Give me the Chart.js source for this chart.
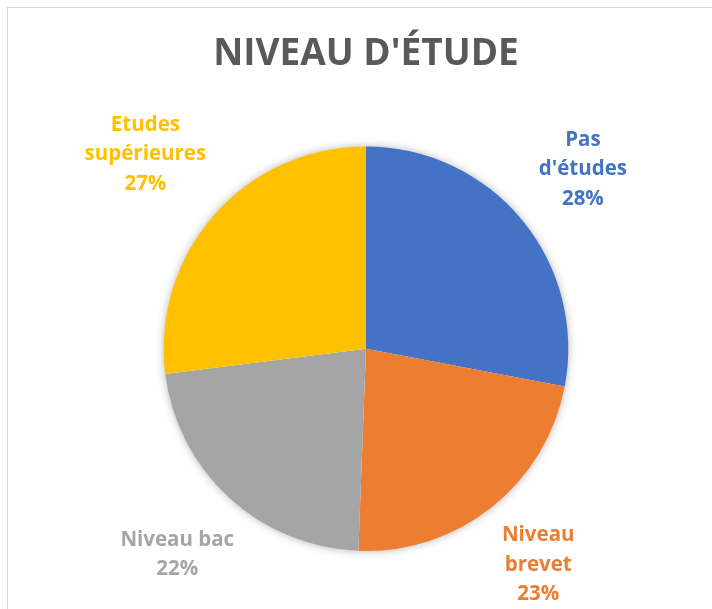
<!DOCTYPE html>
<html>
<head>
<meta charset="utf-8">
<script src="https://cdn.jsdelivr.net/npm/chart.js@4/dist/chart.umd.min.js"></script>
<style>
  html, body { margin:0; padding:0; background:#fff; }
  #wrap { position:relative; width:712px; height:609px; overflow:hidden; }
  #frame { position:absolute; left:7px; top:7px; width:800px; height:700px;
    border-left:1px solid #d9d9d9; border-top:1px solid #d9d9d9; }
  canvas { position:absolute; left:0; top:0; }
</style>
</head>
<body>
<div id="wrap">
  <div id="frame"></div>
  <canvas id="chartPie" width="712" height="609"></canvas>
</div>
<script>
// catégories (découpées en lignes comme dans l'original) et parts en %
const CATEGORIES = [['Pas', "d'études"], ['Niveau', 'brevet'], ['Niveau bac'], ['Etudes', 'supérieures']];
const VALUES = [28.0, 22.6, 22.4, 27.0];
const COLORS = ['#4472C4', '#ED7D31', '#A5A5A5', '#FFC000'];
const TITLE = "NIVEAU D'ÉTUDE";

const FONT = '"Open Sans", "DejaVu Sans", sans-serif';

// ombre douce sous le camembert
const shadowPlugin = {
  id: 'pieShadow',
  beforeDatasetsDraw(chart) {
    const arc = chart.getDatasetMeta(0).data[0];
    if (!arc) return;
    const ctx = chart.ctx;
    ctx.save();
    ctx.shadowColor = 'rgba(0,0,0,0.35)';
    ctx.shadowBlur = 10;
    ctx.fillStyle = '#ffffff';
    ctx.beginPath();
    ctx.arc(arc.x, arc.y, arc.outerRadius - 1, 0, Math.PI * 2);
    ctx.fill();
    ctx.restore();
  }
};

// étiquettes extérieures : nom + pourcentage, couleur de la part
const outLabels = {
  id: 'outLabels',
  afterDatasetsDraw(chart) {
    const ctx = chart.ctx;
    const total = VALUES.reduce((s, v) => s + v, 0);
    const lineH = 29.5, gap = 17;
    ctx.save();
    ctx.font = '700 20.5px ' + FONT;
    ctx.textAlign = 'center';
    ctx.textBaseline = 'middle';
    chart.getDatasetMeta(0).data.forEach((arc, i) => {
      const lines = CATEGORIES[i].concat([Math.round(VALUES[i] / total * 100) + '%']);
      const w = Math.max(...lines.map(l => ctx.measureText(l).width));
      const h = lines.length * lineH;
      const mid = (arc.startAngle + arc.endAngle) / 2;
      const c = Math.cos(mid), s = Math.sin(mid);
      const d = arc.outerRadius + gap + Math.abs(w / 2 * c) + Math.abs(h / 2 * s);
      const cx = arc.x + d * c, cy = arc.y + d * s;
      ctx.fillStyle = COLORS[i];
      lines.forEach((l, k) => {
        ctx.fillText(l, cx, cy - h / 2 + lineH * (k + 0.5));
      });
    });
    ctx.restore();
  }
};

new Chart(document.getElementById('chartPie'), {
  type: 'pie',
  data: {
    labels: CATEGORIES,
    datasets: [{ data: VALUES, backgroundColor: COLORS, borderWidth: 0 }]
  },
  options: {
    responsive: false,
    animation: false,
    layout: { padding: { left: 163, right: 143, top: 0, bottom: 58 } },
    plugins: {
      legend: { display: false },
      tooltip: { enabled: false },
      title: {
        display: true, text: TITLE, color: '#595959',
        font: { family: FONT, size: 37, weight: '700', lineHeight: 1.2 },
        padding: { top: 32, bottom: 70 }
      }
    }
  },
  plugins: [shadowPlugin, outLabels]
});
</script>
</body>
</html>
